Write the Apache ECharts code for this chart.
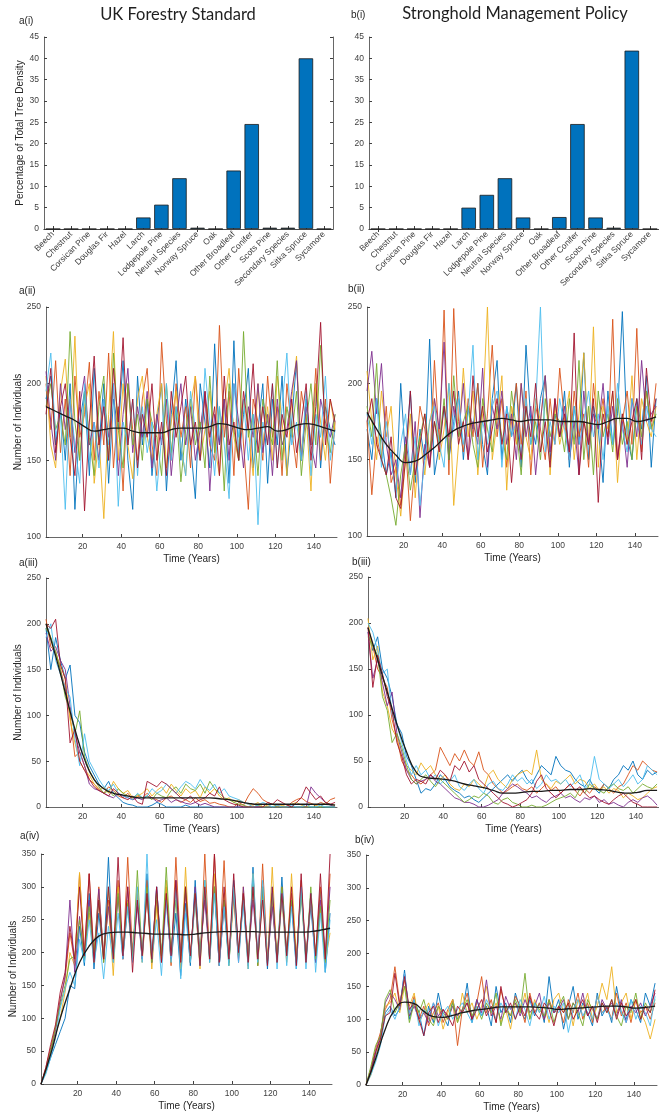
<!DOCTYPE html>
<html>
<head>
<meta charset="utf-8">
<script src="https://cdn.jsdelivr.net/npm/echarts@6/dist/echarts.min.js"></script>
<style>
html,body{margin:0;padding:0;background:#fff;}
#main{width:659px;height:1118px;}
</style>
</head>
<body>
<div id="main"></div>
<script>
// species shares, panel (i)
var categories = ['Beech','Chestnut','Corsican Pine','Douglas Fir','Hazel','Larch','Lodgepole Pine','Neutral Species',
  'Norway Spruce','Oak','Other Broadleaf','Other Conifer','Scots Pine','Secondary Species','Sitka Spruce','Sycamore'];
var ukShare = [0,0,0,0,0,2.7,5.7,11.9,0.3,0,13.7,24.6,0.3,0.3,40,0];
var strongholdShare = [0,0,0,0,0,5,8,11.9,2.7,0,2.8,24.6,2.7,0.3,41.8,0];

// time axis of the runs
var years = [1,3.5,6,8.5,11,13.5,16,18.5,21,23.5,26,28.5,31,33.5,36,38.5,41,43.5,46,48.5,
  51,53.5,56,58.5,61,63.5,66,68.5,71,73.5,76,78.5,81,83.5,86,88.5,91,93.5,96,98.5,
  101,103.5,106,108.5,111,113.5,116,118.5,121,123.5,126,128.5,131,133.5,136,138.5,141,143.5,146,148.5,151];
var meanYears = [1,6,11,16,21,26,31,36,41,46,51,56,61,66,71,76,81,86,91,96,101,106,111,116,121,126,131,136,141,146,151];
var timeTicks = [20,40,60,80,100,120,140];
var runColors = ['#0072BD','#D95319','#EDB120','#7E2F8E','#77AC30','#4DBEEE','#A2142F'];

// a(ii)
var ukRunsII = [
  [190,205,160,185,150,200,118,175,195,140,210,160,200,135,190,170,215,150,118,205,160,190,140,175,200,130,180,215,150,190,160,125,200,175,145,226,160,190,135,228,150,180,210,145,170,200,135,190,160,205,140,175,215,150,190,160,200,145,185,170,160],
  [200,170,215,155,190,140,205,165,180,214,150,195,160,220,145,185,130,200,170,150,190,210,160,140,227,175,150,200,165,185,145,205,170,190,160,150,238,165,195,140,210,160,118,190,175,150,205,165,185,140,200,170,145,195,175,160,210,150,190,135,175],
  [205,160,145,195,216,165,231,150,185,200,135,165,112,180,234,150,200,160,138,190,205,165,150,180,200,145,175,195,160,140,185,205,150,170,195,160,140,185,210,165,150,190,170,140,200,160,185,150,205,175,140,190,218,155,180,130,200,175,150,190,170],
  [208,175,150,200,170,190,155,185,205,160,175,150,190,165,200,140,180,210,155,185,165,195,145,180,160,190,140,175,200,160,185,150,170,195,130,180,160,190,150,200,175,145,185,165,200,155,180,140,190,160,170,195,215,150,185,160,145,190,175,165,180],
  [185,200,170,180,160,234,175,150,195,165,140,185,205,150,220,170,145,200,160,180,150,190,175,165,140,200,155,185,136,170,190,160,175,145,205,155,185,130,200,170,150,234,165,180,140,190,175,160,215,150,185,165,195,140,175,200,160,225,170,155,180],
  [195,220,165,180,118,190,160,135,200,150,175,145,190,160,200,120,175,160,190,140,185,155,175,130,165,200,150,185,160,140,195,170,150,210,175,140,185,160,125,200,165,190,150,180,108,175,160,200,145,185,220,160,175,150,195,140,180,165,205,150,170],
  [180,210,155,185,200,165,140,195,117,175,218,160,185,150,210,175,230,160,190,145,180,165,200,150,175,140,195,165,185,205,160,175,150,195,165,185,140,205,160,175,150,195,170,213,155,185,160,200,145,180,165,190,155,175,200,150,185,240,160,190,175]
];
var ukMeanII = [185,182,179,176,172,169,170,171,171,169,168,168,168,170,171,171,171,172,174,173,171,170,171,172,169,170,173,174,173,171,169];

// b(ii)
var shRunsII = [
  [170,150,190,165,140,155,125,200,150,195,135,170,150,229,140,160,185,150,175,195,150,185,170,200,160,140,190,215,150,185,165,200,145,225,175,160,190,205,150,180,165,195,145,185,160,220,150,185,170,135,195,160,180,247,165,150,190,170,205,145,190],
  [175,127,165,150,185,135,145,120,160,110,150,185,170,145,215,160,248,140,249,175,155,190,165,200,145,180,225,165,190,145,175,200,160,195,140,185,170,150,190,160,210,175,150,195,165,180,145,200,170,190,160,242,150,175,195,160,236,155,195,170,200],
  [208,175,150,195,165,185,140,113,150,180,125,165,140,175,190,150,170,200,120,160,210,165,195,140,180,250,150,175,205,130,185,160,200,165,150,190,175,205,140,185,160,175,195,150,180,220,160,237,145,185,170,195,135,180,160,205,150,190,175,165,185],
  [195,221,180,213,160,140,150,125,165,140,175,112,160,145,190,170,227,150,185,165,200,150,175,160,210,145,185,170,195,160,180,150,200,165,185,140,175,205,155,190,165,185,150,175,140,195,160,180,170,200,160,185,150,175,145,190,165,215,175,180,185],
  [185,165,213,150,140,125,107,140,160,130,150,165,180,155,175,160,190,150,205,165,175,185,160,145,190,170,155,185,165,150,195,170,140,185,160,175,150,190,165,180,175,155,190,160,215,150,185,140,195,165,180,155,190,160,175,150,185,165,195,170,180],
  [180,160,190,145,175,150,130,160,180,140,165,120,150,175,185,160,145,200,170,190,160,180,225,150,175,160,185,195,145,185,165,175,150,190,160,185,250,155,175,160,190,170,150,185,160,175,195,165,180,150,185,160,200,170,155,190,175,160,185,170,165],
  [175,190,160,150,140,165,125,118,150,195,140,160,180,145,175,155,185,165,195,160,175,150,205,165,185,155,170,190,160,180,135,175,150,185,165,200,155,175,145,190,165,180,155,233,140,175,160,190,122,180,165,195,150,180,160,175,190,150,210,175,190]
];
var shMeanII = [181,170,160,153,148,149,153,158,164,169,172,174,175,176,177,176,175,176,176,176,175,175,175,174,173,175,177,177,175,176,178];

// a(iii)
var ukRunsIII = [
  [195,150,185,160,140,155,100,92,60,45,35,25,20,28,15,10,5,3,2,0,0,0,2,5,3,0,0,0,0,2,0,0,0,0,0,0,0,0,0,0,0,0,0,0,0,0,0,0,0,0,0,0,0,0,0,0,0,0,0,0,0],
  [205,175,170,150,130,100,55,60,45,30,25,20,15,22,18,12,10,15,8,12,10,15,10,8,5,10,12,8,5,8,5,10,6,8,4,5,3,2,0,0,5,2,12,20,15,8,5,3,2,0,0,5,8,10,6,4,2,5,3,8,10],
  [200,185,165,155,140,95,70,50,40,35,25,18,22,15,28,20,15,18,10,12,15,20,12,18,22,15,25,18,12,20,15,18,10,22,15,20,12,8,10,5,8,5,3,2,5,0,2,3,0,2,0,3,5,2,0,3,2,0,5,3,2],
  [190,170,175,160,150,110,80,60,45,25,20,18,15,12,10,15,12,10,8,10,8,12,10,6,8,10,5,8,6,4,3,5,2,4,2,0,0,0,0,0,0,0,0,0,0,0,0,0,0,0,0,0,0,0,0,22,15,10,5,2,0],
  [195,185,170,150,120,105,80,105,55,40,30,22,15,18,12,20,15,12,10,14,10,12,8,15,12,10,18,22,15,25,20,18,25,15,28,20,15,10,8,5,3,2,0,0,2,0,0,0,0,0,0,0,0,0,0,0,0,0,0,0,0],
  [185,200,160,145,130,120,75,45,80,50,40,30,22,18,25,15,12,10,8,15,10,12,20,15,18,25,20,15,22,28,25,20,30,22,18,25,15,20,12,10,8,5,3,0,2,5,3,0,2,0,0,2,0,0,3,0,0,2,0,0,0],
  [200,195,205,155,140,70,85,50,40,30,22,18,15,12,20,15,10,8,12,5,3,28,25,22,28,25,20,15,10,8,12,5,8,10,15,12,22,8,5,3,2,0,0,0,0,0,5,3,8,5,2,0,5,10,22,15,8,12,5,3,5]
];
var ukMeanIII = [200,165,125,85,52,30,20,15,13,11,10,10,10,10,10,10,10,10,9,8,6,4,3,3,3,3,3,3,3,3,2];

// b(iii)
var shRunsIII = [
  [190,170,185,150,140,120,90,80,55,45,30,15,20,18,25,35,30,22,18,15,10,12,8,5,10,15,20,25,30,35,28,35,40,30,25,35,45,40,35,55,45,40,38,30,25,22,30,20,15,25,20,30,35,45,40,50,35,30,40,35,38],
  [195,175,150,140,130,95,75,50,40,35,28,25,30,35,40,65,55,45,58,50,62,50,45,60,40,35,25,20,15,18,22,25,20,18,22,15,20,25,18,22,15,20,25,18,12,20,15,22,18,25,20,15,22,25,35,45,40,50,45,40,38],
  [205,160,175,125,110,85,75,55,45,40,35,48,40,45,35,30,35,25,20,18,25,22,30,25,20,35,40,30,25,20,30,35,38,40,35,62,30,25,20,28,25,30,35,25,30,28,20,25,18,22,15,20,18,10,15,12,8,10,15,20,22],
  [190,140,160,135,110,125,80,60,40,30,25,28,30,35,28,25,20,15,10,8,5,5,3,0,0,2,5,8,15,20,25,22,18,15,10,12,8,5,10,12,15,10,12,8,5,10,8,12,5,8,3,5,2,0,5,8,5,10,12,8,2],
  [185,175,165,120,105,70,80,65,45,30,25,30,35,28,22,30,25,20,15,10,5,8,12,10,15,12,5,3,8,10,5,3,0,0,2,0,0,2,5,8,10,12,15,10,20,15,25,20,18,15,22,25,20,18,22,15,20,25,22,20,25],
  [200,190,170,145,150,100,90,70,50,35,45,35,40,30,35,25,30,28,35,22,18,25,30,20,15,25,28,20,18,25,35,28,32,25,30,20,25,35,28,30,25,30,22,28,35,20,25,55,30,25,20,25,30,22,28,35,25,30,45,40,35],
  [195,130,165,145,120,105,70,55,35,25,30,28,25,35,30,40,35,28,45,40,50,38,45,30,25,20,15,10,5,3,0,2,5,8,15,28,35,20,15,10,15,20,25,18,22,15,10,12,8,5,3,8,12,15,10,5,3,0,0,0,0]
];
var shMeanIII = [195,160,125,90,60,38,32,31,30,28,25,23,21,18,15,15,16,17,17,18,18,19,19,20,19,18,16,15,16,18,18];

// a(iv)
var ukRunsIV = [
  [0,18,40,60,80,100,150,145,240,180,290,175,260,190,345,185,300,195,270,200,280,190,320,185,300,195,290,185,260,165,275,180,310,190,290,195,300,180,280,185,310,200,275,180,330,190,300,175,290,185,315,195,280,175,300,190,270,185,295,170,260],
  [0,25,55,85,130,160,230,185,320,200,320,195,300,185,280,200,310,190,345,200,290,195,310,190,280,185,300,180,345,200,300,195,285,180,350,190,350,200,340,185,300,195,290,185,310,180,335,190,280,185,300,200,290,185,310,190,280,195,300,185,320],
  [0,20,50,75,100,140,200,180,322,195,260,185,290,200,270,165,300,190,280,195,300,185,290,175,270,190,310,185,300,175,330,190,280,175,300,195,320,180,290,185,280,190,300,175,320,185,290,185,330,185,280,185,320,195,300,185,290,190,270,185,230],
  [0,22,50,80,125,165,280,170,255,190,280,190,297,195,270,200,285,190,300,195,270,190,290,185,300,195,280,190,310,195,290,185,300,195,280,190,300,180,270,190,290,185,300,190,280,195,300,185,270,190,290,195,280,185,300,190,290,185,280,195,300],
  [0,20,50,85,120,150,190,195,250,190,270,200,280,185,300,195,290,200,275,190,325,195,300,185,290,195,330,200,280,190,300,185,290,195,310,185,300,190,280,180,300,195,285,190,310,180,300,185,290,190,300,195,280,185,290,185,300,190,270,185,280],
  [0,15,40,70,115,145,170,150,220,185,250,185,230,160,240,185,260,190,270,185,300,185,350,190,250,165,280,185,300,160,260,185,280,180,310,185,290,180,270,180,300,185,280,175,320,185,310,180,300,175,290,180,270,175,300,175,290,170,260,170,250],
  [0,25,60,90,140,170,240,190,300,195,320,185,280,190,300,190,345,195,300,170,280,195,290,190,300,185,290,195,310,185,300,195,290,180,300,190,350,185,300,190,320,200,290,185,300,190,280,180,300,185,290,195,300,180,320,185,290,195,320,190,350]
];
var ukMeanIV = [0,45,100,145,185,210,225,230,231,231,230,229,228,228,228,227,228,230,231,232,232,232,232,231,231,231,231,231,232,234,237];

// b(iv)
var shRunsIV = [
  [0,20,45,65,110,120,105,115,175,100,130,110,75,120,95,140,105,90,130,100,110,155,95,130,105,120,90,150,110,125,95,140,115,100,130,105,125,95,165,110,130,85,120,150,100,125,110,90,140,105,120,95,150,110,100,130,115,95,140,120,155],
  [0,25,55,80,115,130,180,125,160,110,135,100,120,90,110,125,95,115,130,60,115,140,100,125,165,110,130,95,145,115,105,135,120,95,140,110,125,100,130,110,120,95,130,110,140,100,125,95,135,110,120,100,140,105,125,95,130,110,120,100,125],
  [0,15,40,70,120,125,140,110,150,120,140,95,110,125,100,120,85,110,130,95,140,110,125,100,120,150,105,125,95,115,85,125,110,140,100,130,110,120,95,130,140,110,125,90,130,115,140,100,120,155,130,180,110,125,140,100,130,110,95,70,100],
  [0,22,50,75,125,140,130,115,170,105,120,100,110,95,125,105,115,100,120,105,115,125,100,130,110,160,105,120,100,135,115,125,105,130,110,120,140,100,125,110,115,130,100,125,110,140,105,120,100,130,115,125,105,130,95,120,110,125,105,120,140],
  [0,28,60,75,130,145,110,125,150,95,125,110,130,100,90,120,110,100,125,95,115,130,105,120,100,125,110,140,90,120,105,130,110,170,100,125,115,105,130,95,120,135,100,125,110,90,130,115,100,125,110,130,105,90,120,110,140,100,125,110,130],
  [0,15,35,60,105,115,100,120,170,110,130,90,115,105,125,90,110,120,100,115,125,110,95,120,105,130,115,100,125,110,120,100,130,115,90,125,110,135,100,120,110,125,80,115,130,105,120,100,135,110,115,100,125,110,95,130,100,120,110,90,135],
  [0,20,50,70,105,110,170,120,165,115,125,100,75,110,120,95,115,105,90,120,110,125,100,115,130,105,120,95,150,110,125,100,120,105,135,110,100,125,115,90,120,110,125,100,115,130,105,120,95,125,110,130,100,125,105,115,130,100,120,110,145]
];
var shMeanIV = [0,40,85,115,126,124,112,104,103,106,110,113,115,117,119,119,119,119,118,117,115,116,117,118,119,120,120,119,117,118,120];

var axisColor = '#404040';
var labelFont = 'Liberation Sans, Arial, sans-serif';

var grids = [], xAxes = [], yAxes = [], series = [];

function pair(xs, ys){
  return xs.map(function(t, i){ return [t, ys[i]]; });
}

function barPanel(box, values, showRight){
  var gi = grids.length;
  grids.push(box);
  var base = {
    gridIndex: gi, type: 'category', data: categories,
    axisLine: {show: true, lineStyle: {color: axisColor, width: 0.8}},
    axisTick: {show: true, inside: true, length: 3, alignWithLabel: true, lineStyle: {color: axisColor}},
    splitLine: {show: false}
  };
  xAxes.push(Object.assign({}, base, {
    position: 'bottom',
    axisLabel: {interval: 0, rotate: 45, fontSize: 8.5, color: axisColor, fontFamily: labelFont, margin: 4}
  }));
  xAxes.push(Object.assign({}, base, {position: 'top', axisLabel: {show: false}}));
  var yBase = {
    gridIndex: gi, type: 'value', min: 0, max: 45, interval: 5,
    axisLine: {show: true, lineStyle: {color: axisColor, width: 0.8}},
    axisTick: {show: true, inside: true, length: 3, lineStyle: {color: axisColor}},
    splitLine: {show: false}
  };
  yAxes.push(Object.assign({}, yBase, {
    position: 'left',
    axisLabel: {fontSize: 8.5, color: axisColor, fontFamily: labelFont, margin: 5},
    name: gi === 0 ? 'Percentage of Total Tree Density' : '',
    nameLocation: 'middle', nameGap: 17,
    nameTextStyle: {fontSize: 10, color: '#262626', fontFamily: labelFont}
  }));
  yAxes.push(Object.assign({}, yBase, {position: 'right', show: showRight, axisLabel: {show: false}}));
  series.push({
    type: 'bar', xAxisIndex: xAxes.length - 2, yAxisIndex: yAxes.length - 2,
    data: values, barWidth: '80%',
    itemStyle: {color: '#0072BD', borderColor: '#1a1a1a', borderWidth: 0.8}
  });
}

function linePanel(box, yRange, runs, mean, showYName){
  var gi = grids.length;
  grids.push(box);
  xAxes.push({
    gridIndex: gi, type: 'value', min: 1, max: 152,
    axisLine: {show: true, lineStyle: {color: axisColor, width: 0.8}},
    axisTick: {show: true, inside: true, length: 3, customValues: timeTicks, lineStyle: {color: axisColor}},
    axisLabel: {customValues: timeTicks, fontSize: 8.5, color: axisColor, fontFamily: labelFont, margin: 5},
    splitLine: {show: false},
    name: 'Time (Years)', nameLocation: 'middle', nameGap: 17,
    nameTextStyle: {fontSize: 10, color: '#262626', fontFamily: labelFont}
  });
  yAxes.push({
    gridIndex: gi, type: 'value', min: yRange[0], max: yRange[1], interval: 50,
    axisLine: {show: true, lineStyle: {color: axisColor, width: 0.8}},
    axisTick: {show: true, inside: true, length: 3, lineStyle: {color: axisColor}},
    axisLabel: {fontSize: 8.5, color: axisColor, fontFamily: labelFont, margin: 5},
    splitLine: {show: false},
    name: showYName ? 'Number of Individuals' : '',
    nameLocation: 'middle', nameGap: 23,
    nameTextStyle: {fontSize: 10, color: '#262626', fontFamily: labelFont}
  });
  var xi = xAxes.length - 1, yi = yAxes.length - 1;
  runs.forEach(function(run, k){
    series.push({
      type: 'line', xAxisIndex: xi, yAxisIndex: yi, data: pair(years, run),
      showSymbol: false, symbol: 'none', silent: true, z: 2,
      lineStyle: {width: 1, color: runColors[k % runColors.length], opacity: 0.9}
    });
  });
  series.push({
    type: 'line', xAxisIndex: xi, yAxisIndex: yi, data: pair(meanYears, mean),
    showSymbol: false, symbol: 'none', silent: true, smooth: true, z: 5,
    lineStyle: {width: 1.3, color: '#1a1a1a'}
  });
}

barPanel({left: 44, top: 37, width: 289, height: 192}, ukShare, true);
barPanel({left: 369, top: 37, width: 292, height: 192}, strongholdShare, false);
linePanel({left: 46, top: 307, width: 291, height: 230}, [100, 250], ukRunsII, ukMeanII, true);
linePanel({left: 367, top: 307, width: 291, height: 229}, [100, 250], shRunsII, shMeanII, false);
linePanel({left: 46, top: 578, width: 291, height: 229}, [0, 250], ukRunsIII, ukMeanIII, true);
linePanel({left: 368, top: 577, width: 291, height: 230}, [0, 250], shRunsIII, shMeanIII, false);
linePanel({left: 41, top: 854, width: 291, height: 230}, [0, 350], ukRunsIV, ukMeanIV, true);
linePanel({left: 366, top: 855, width: 291, height: 230}, [0, 350], shRunsIV, shMeanIV, false);

function txt(x, y, s, font, align){
  return {type: 'text', x: x, y: y, z: 100,
    style: {text: s, font: font, fill: '#1f1f1f', align: align || 'left', verticalAlign: 'middle'}};
}
var panelFont = '10px Liberation Sans, Arial, sans-serif';
var titleFont = '16.5px Lato, Open Sans, sans-serif';

var myChart = echarts.init(document.getElementById('main'));
myChart.setOption({
  animation: false,
  backgroundColor: '#fff',
  grid: grids,
  xAxis: xAxes,
  yAxis: yAxes,
  series: series,
  graphic: [
    txt(178, 15, 'UK Forestry Standard', titleFont, 'center'),
    txt(515, 14, 'Stronghold Management Policy', titleFont, 'center'),
    txt(19, 21, 'a(i)', panelFont),
    txt(351, 15, 'b(i)', panelFont),
    txt(19, 291, 'a(ii)', panelFont),
    txt(348, 289, 'b(ii)', panelFont),
    txt(19, 563, 'a(iii)', panelFont),
    txt(352, 562, 'b(iii)', panelFont),
    txt(20, 836, 'a(iv)', panelFont),
    txt(355, 840, 'b(iv)', panelFont)
  ]
});
</script>
</body>
</html>
